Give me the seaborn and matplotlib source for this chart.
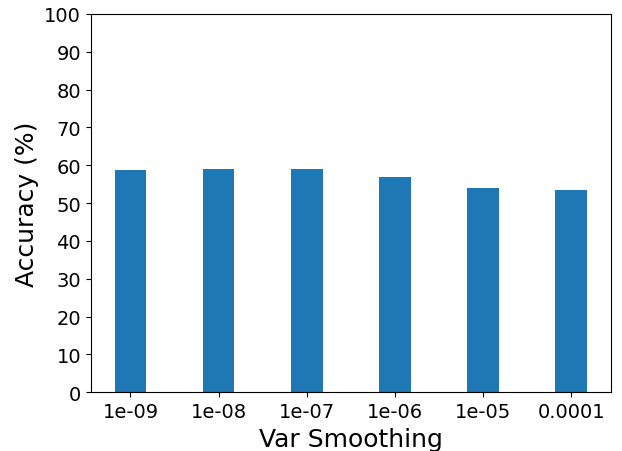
import matplotlib
matplotlib.use("Agg")
import matplotlib.pyplot as plt
import seaborn as sns
import pandas as pd

var_smoothing = ["1e-09", "1e-08", "1e-07", "1e-06", "1e-05", "0.0001"]
accuracy = [58.7, 59.0, 59.0, 56.9, 54.0, 53.5]

df = pd.DataFrame({"Var Smoothing": var_smoothing, "Accuracy": accuracy})

fig, ax = plt.subplots(figsize=(6.22, 4.52), dpi=100)
fig.subplots_adjust(left=0.146, right=0.982, top=0.967, bottom=0.13)
sns.barplot(data=df, x="Var Smoothing", y="Accuracy", color="#1f77b4",
            saturation=1, width=0.36, ax=ax)
ax.set_xlim(-0.45, 5.45)
ax.set_ylim(0, 100)
ax.set_yticks(range(0, 101, 10))
ax.set_xlabel("Var Smoothing", fontsize=18)
ax.set_ylabel("Accuracy (%)", fontsize=18)
ax.tick_params(labelsize=14)
fig.savefig("out.png", dpi=100)
